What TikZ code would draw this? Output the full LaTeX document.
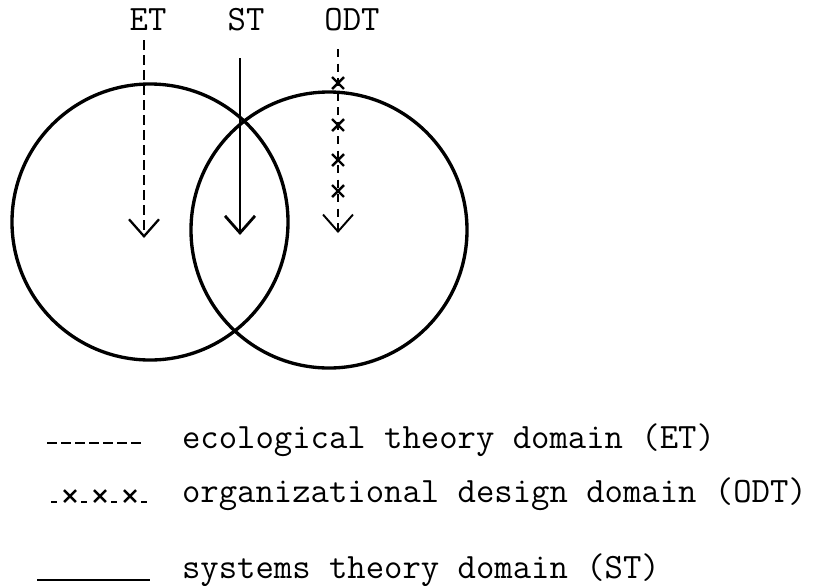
\documentclass[tikz,border=0pt]{standalone}
\usepackage{fontspec}
\usetikzlibrary{positioning,arrows.meta,shapes.misc}

\tikzset{
  every node/.style={font=\fontsize{20.3}{24}\selectfont\ttfamily\addfontfeatures{FakeBold=1.2}, inner sep=1pt},
  domcircle/.style={circle, draw, line width=1.9pt, minimum size=5.52cm, inner sep=0pt},
  barb/.style={-{Straight Barb[length=3.4mm, width=6mm]}},
  etline/.style={line width=1.3pt, dash pattern={on 2mm off 1mm}},
  stline/.style={line width=1.6pt},
  odtline/.style={line width=1.1pt, dash pattern={on 1.6mm off 1.3mm}},
  xmark/.style={cross out, draw, line width=1.4pt, minimum size=1.9mm, inner sep=0pt}
}

\begin{document}
\begin{tikzpicture}[x=0.2mm, y=-0.2mm]
  \useasboundingbox (0,0) rectangle (840,585);
  % the two domains
  \node[domcircle] (ecircle) at (150,222) {};
  \node[domcircle] (ocircle) at (329,230) {};
  % headings
  \node[anchor=base] (et) at (148,30) {ET};
  \node[anchor=base] (st) at (246,30) {ST};
  \node[anchor=base] (odt) at (352,30) {ODT};
  % the three arrows
  \coordinate (et top) at (144,40);
  \coordinate (et tip) at (144,238);
  \coordinate (st top) at (240,58);
  \coordinate (st tip) at (240,235);
  \coordinate (odt top) at (338,49);
  \coordinate (odt tip) at (338,233);
  \draw[etline, barb] (et top) -- (et tip);
  \draw[stline, barb] (st top) -- (st tip);
  \draw[odtline, barb] (odt top) -- (odt tip);
  \foreach \y [count=\i] in {83,125,160,191}
    \node[xmark] (mk\i) at (338,\y) {};
  % legend
  \node[anchor=base west] (etkey) at (180,448) {ecological theory domain (ET)};
  \node[anchor=base west] (odtkey) at (180,502) {organizational design domain (ODT)};
  \node[anchor=base west] (stkey) at (180,578) {systems theory domain (ST)};
  \coordinate (etk a) at (47,443);
  \coordinate (etk b) at (143,443);
  \coordinate (odtk a) at (50,502);
  \coordinate (odtk b) at (157,502);
  \coordinate (stk a) at (37,580);
  \coordinate (stk b) at (150,580);
  \draw[etline, dash pattern={on 2mm off 0.8mm}] (etk a) -- (etk b);
  \draw[odtline, dash pattern={on 1.2mm off 4.8mm}, dash phase=-0.2mm] (odtk a) -- (odtk b);
  \foreach \x [count=\i] in {70,100,130}
    \node[xmark] (km\i) at (\x,496) {};
  \draw[stline] (stk a) -- (stk b);
\end{tikzpicture}
\end{document}
